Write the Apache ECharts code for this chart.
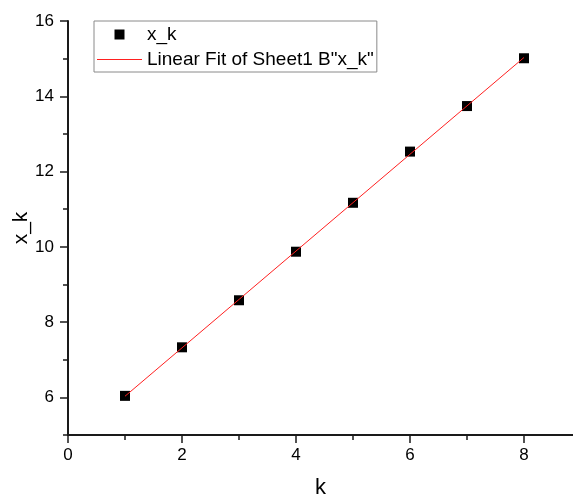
<!DOCTYPE html>
<html>
<head>
<meta charset="utf-8">
<script src="https://cdn.jsdelivr.net/npm/echarts@6/dist/echarts.min.js"></script>
<style>
html,body{margin:0;padding:0;background:#fff;}
#chart{width:573px;height:498px;}
</style>
</head>
<body>
<div id="chart"></div>
<script>
const kValues = [1, 2, 3, 4, 5, 6, 7, 8];
const xkValues = [6.04, 7.33, 8.58, 9.87, 11.17, 12.53, 13.74, 15.01];
const fitK = [1, 8];
const fitXk = [6.03, 15.03];
const xMajorTicks = [0, 2, 4, 6, 8];
const xMinorTicks = [1, 3, 5, 7];
const yMajorTicks = [6, 8, 10, 12, 14, 16];
const yMinorTicks = [5, 7, 9, 11, 13, 15];
const seriesName = 'x_k';
const fitName = 'Linear Fit of Sheet1 B"x_k"';
const xName = 'k';
const yName = 'x_k';

const FONT = 'Liberation Sans, Arial, sans-serif';
const AX = '#1a1a1a';
const chart = echarts.init(document.getElementById('chart'), null, {renderer: 'canvas'});

const xMin = 0, xMax = 8.86, yMin = 5, yMax = 16;

chart.setOption({
  animation: false,
  backgroundColor: '#fff',
  grid: {left: 68, right: 0, top: 21, bottom: 63, containLabel: false, outerBoundsMode: 'none'},
  legend: {
    orient: 'vertical',
    left: 94, top: 21,
    padding: [4, 3, 3, 3],
    itemWidth: 45, itemHeight: 10, itemGap: 6,
    symbolKeepAspect: true,
    borderColor: '#8a8a8a', borderWidth: 1,
    textStyle: {fontFamily: FONT, fontSize: 19, color: '#000'},
    data: [
      {name: seriesName, icon: 'path://M0,0H10V10H0Z'},
      {name: fitName, icon: 'path://M0,0H45V1H0Z'}
    ]
  },
  xAxis: [{
    type: 'value', min: xMin, max: xMax, position: 'bottom',
    name: xName, nameLocation: 'middle', nameGap: 42, nameMoveOverlap: false,
    nameTextStyle: {fontFamily: FONT, fontSize: 22, color: '#000'},
    axisLine: {show: true, onZero: false, lineStyle: {color: AX, width: 2}},
    axisTick: {show: true, inside: false, length: 8, customValues: xMajorTicks, lineStyle: {color: AX, width: 1.5}},
    axisLabel: {show: true, margin: 12, customValues: xMajorTicks, fontFamily: FONT, fontSize: 17, color: '#000'},
    splitLine: {show: false}
  }, {
    type: 'value', min: xMin, max: xMax, position: 'bottom', gridIndex: 0,
    axisLine: {show: false, onZero: false},
    axisTick: {show: true, inside: false, length: 5, customValues: xMinorTicks, lineStyle: {color: AX, width: 1.5}},
    axisLabel: {show: false},
    splitLine: {show: false}
  }],
  yAxis: [{
    type: 'value', min: yMin, max: yMax, position: 'left',
    name: yName, nameLocation: 'middle', nameGap: 36, nameRotate: 90, nameMoveOverlap: false,
    nameTextStyle: {fontFamily: FONT, fontSize: 21, color: '#000'},
    axisLine: {show: true, onZero: false, lineStyle: {color: AX, width: 2}},
    axisTick: {show: true, inside: false, length: 8, customValues: yMajorTicks, lineStyle: {color: AX, width: 1.5}},
    axisLabel: {show: true, margin: 14, customValues: yMajorTicks, fontFamily: FONT, fontSize: 17, color: '#000'},
    splitLine: {show: false}
  }, {
    type: 'value', min: yMin, max: yMax, position: 'left', gridIndex: 0,
    axisLine: {show: false, onZero: false},
    axisTick: {show: true, inside: false, length: 5, customValues: yMinorTicks, lineStyle: {color: AX, width: 1.5}},
    axisLabel: {show: false},
    splitLine: {show: false}
  }],
  series: [{
    name: seriesName,
    type: 'scatter',
    xAxisIndex: 0, yAxisIndex: 0,
    symbol: 'rect', symbolSize: 10,
    itemStyle: {color: '#000', opacity: 1},
    data: kValues.map((k, i) => [k, xkValues[i]]),
    z: 2
  }, {
    name: fitName,
    type: 'line',
    xAxisIndex: 0, yAxisIndex: 0,
    symbol: 'none', showSymbol: false,
    lineStyle: {color: '#ff2020', width: 1},
    itemStyle: {color: '#ff2020'},
    data: fitK.map((k, i) => [k, fitXk[i]]),
    z: 3
  }]
});
</script>
</body>
</html>
